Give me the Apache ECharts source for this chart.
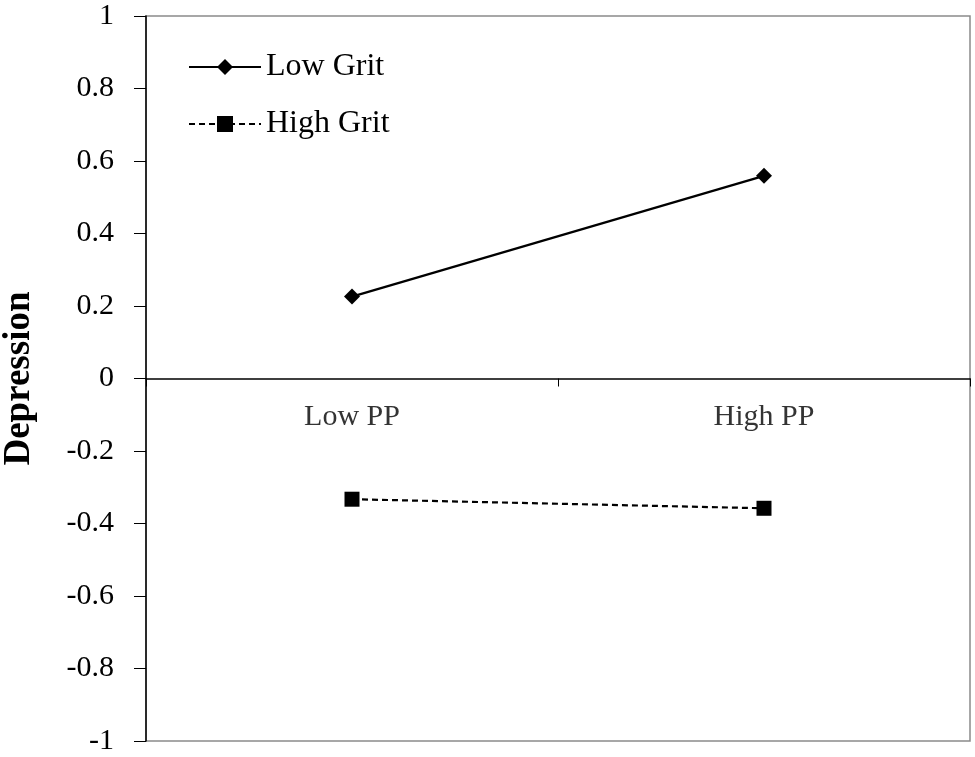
<!DOCTYPE html>
<html>
<head>
<meta charset="utf-8">
<script src="https://cdn.jsdelivr.net/npm/echarts@6/dist/echarts.min.js"></script>
<style>
  html, body { margin: 0; padding: 0; background: #fff; }
  #chart { width: 975px; height: 757px; }
</style>
</head>
<body>
<div id="chart"></div>
<script>
var categories = ['Low PP', 'High PP'];
var lowGrit = [0.226, 0.559];
var highGrit = [-0.333, -0.358];
// the x labels sit under the zero line, so they hang off a row of zeros
var zeroRow = [0, 0];

var font = '"Liberation Serif", "Times New Roman", serif';

var chart = echarts.init(document.getElementById('chart'));
var option = {
  animation: false,
  textStyle: { fontFamily: font, color: '#000' },
  grid: {
    left: 146,
    right: 5,
    top: 16,
    bottom: 16,
    containLabel: false,
    outerBoundsMode: 'none',
    show: true,
    borderColor: '#8a8a8a',
    borderWidth: 1.5
  },
  legend: {
    orient: 'vertical',
    left: 183,
    top: 46,
    itemWidth: 72,
    itemHeight: 20,
    itemGap: 25,
    textStyle: { fontFamily: font, fontSize: 32, color: '#000' },
    data: ['Low Grit', 'High Grit']
  },
  xAxis: {
    type: 'category',
    data: categories,
    axisLine: { onZero: true, lineStyle: { color: '#000', width: 1.5 } },
    axisTick: { show: true, length: 8, lineStyle: { color: '#000' } },
    axisLabel: { show: false }
  },
  yAxis: {
    type: 'value',
    min: -1,
    max: 1,
    interval: 0.2,
    name: 'Depression',
    nameLocation: 'middle',
    nameGap: 108,
    nameTextStyle: { fontFamily: font, fontSize: 37, fontWeight: 'bold', color: '#000' },
    splitLine: { show: false },
    axisLine: { show: true, lineStyle: { color: '#000', width: 1.5 } },
    axisTick: { show: true, length: 12, lineStyle: { color: '#000' } },
    axisLabel: { fontFamily: font, fontSize: 30, color: '#000', margin: 32 }
  },
  series: [
    {
      name: 'Low Grit',
      type: 'line',
      data: lowGrit,
      symbol: 'diamond',
      symbolSize: 16,
      itemStyle: { color: '#000' },
      lineStyle: { color: '#000', width: 2.2 }
    },
    {
      name: 'High Grit',
      type: 'line',
      data: highGrit,
      symbol: 'rect',
      symbolSize: 15,
      itemStyle: { color: '#000' },
      lineStyle: { color: '#000', width: 2.2, type: [6, 4] }
    },
    {
      name: 'axis labels',
      type: 'scatter',
      data: zeroRow,
      symbolSize: 0,
      silent: true,
      label: {
        show: true,
        position: 'bottom',
        distance: 24,
        formatter: function (p) { return categories[p.dataIndex]; },
        fontFamily: font,
        fontSize: 30,
        color: '#000'
      }
    }
  ]
};
chart.setOption(option);
</script>
</body>
</html>
